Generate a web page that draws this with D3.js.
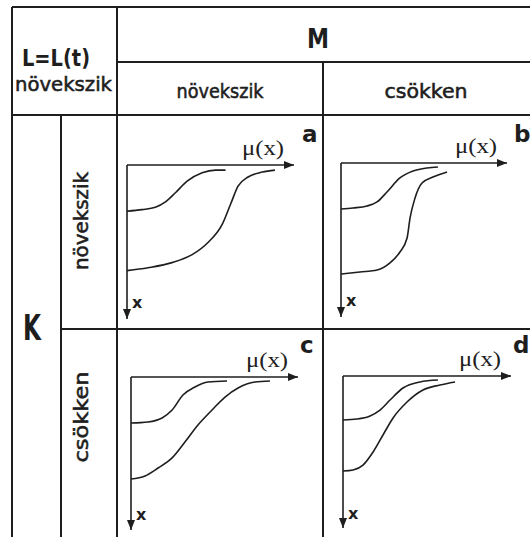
<!DOCTYPE html>
<html>
<head>
<meta charset="utf-8">
<script src="https://cdn.jsdelivr.net/npm/d3@7"></script>
<style>
  body { margin: 0; background: #fff; }
  svg { display: block; }
</style>
</head>
<body>
<div id="chart"></div>
<script>
// Table labels
const cornerTitle = "L=L(t)";
const cornerSub = "növekszik";
const colGroup = "M";
const rowGroup = "K";
const colHeaders = ["növekszik", "csökken"];
const rowHeaders = ["növekszik", "csökken"];
const panelLetters = ["a", "b", "c", "d"];
const axisLabelX = "x";
const axisLabelMu = "μ(x)";

// Curves: [mu, x] as percent of the axis lengths (mu to the right, x downwards)
const curveA1 = [[0, 30], [9, 29], [17, 27.5], [23, 24], [29, 18], [36, 10.5], [45, 5], [53, 3.3], [59, 3.3]];
const curveA2 = [[0, 68.6], [12.6, 66.7], [27, 63.4], [39, 58.2], [48.5, 50.3], [57, 38.6], [62, 25.5], [66.5, 13.7], [72.5, 7.8], [81, 4.6], [88.6, 3.3]];
const curveB1 = [[0, 29.9], [7.2, 29.2], [15.7, 27.9], [21.7, 25.3], [27.7, 18.8], [35.5, 9.7], [43.4, 5.2], [51.8, 3.2], [58.4, 2.6]];
const curveB2 = [[0, 72.1], [11.4, 70.8], [21.7, 69.5], [29.5, 64.9], [35.5, 57.8], [39.8, 48.7], [41.6, 35.7], [44.6, 22.7], [48.8, 13], [55.4, 9.1], [63.9, 5.8]];
const curveC1 = [[0, 30.1], [10.2, 29.4], [18.6, 26.8], [24.6, 21.6], [31.1, 11.8], [38.3, 6.5], [46.1, 3.3], [57.5, 2.6]];
const curveC2 = [[0, 66.7], [8.4, 64.7], [16.2, 59.5], [24.6, 52.9], [32.3, 42.5], [40.1, 31.4], [48.5, 21.6], [56.3, 13.1], [64.1, 7.2], [74.3, 3.3], [83.2, 2.6]];
const curveD1 = [[0, 28.9], [8.3, 28.3], [16.1, 26.3], [22, 22.4], [28, 15.8], [35.7, 7.9], [45.8, 3.9], [56.5, 2.6]];
const curveD2 = [[0, 62.5], [6, 61.8], [11.9, 58.6], [17.9, 50], [23.8, 38.8], [29.8, 27.6], [38.1, 17.1], [47.6, 9.2], [57.7, 5.9], [66.7, 3.9]];

const panelCurves = [[curveA1, curveA2], [curveB1, curveB2], [curveC1, curveC2], [curveD1, curveD2]];

// Layout
const W = 530, H = 537;
const ink = "#1e1e1e";
const sans = "'DejaVu Sans', sans-serif";
const serif = "'Liberation Serif', 'Times New Roman', serif";

const grid = { left: 12, top: 7, rowHeadSplit: 61, body: 117, colSplit: 323, mSplit: 62, headBottom: 115, rowSplit: 329 };

// axis origin, axis lengths and letter position for each panel
const panelLayout = [
    { ox: 127, oy: 165, hl: 167, vl: 154, lx: 302, ly: 142 },
    { ox: 341, oy: 163, hl: 166, vl: 154, lx: 514, ly: 142 },
    { ox: 131, oy: 377, hl: 167, vl: 153, lx: 300, ly: 353 },
    { ox: 343, oy: 376, hl: 168, vl: 152, lx: 513, ly: 353 }
];

const svg = d3.select("#chart")
    .append("svg")
    .attr("width", W)
    .attr("height", H);

svg.append("rect").attr("width", W).attr("height", H).attr("fill", "#fff");

// arrow head
svg.append("defs").append("marker")
    .attr("id", "arrow")
    .attr("viewBox", "0 0 10 8")
    .attr("refX", 10)
    .attr("refY", 4)
    .attr("markerWidth", 10)
    .attr("markerHeight", 8)
    .attr("markerUnits", "userSpaceOnUse")
    .attr("orient", "auto")
    .append("path")
    .attr("d", "M0,0 L10,4 L0,8 Z")
    .attr("fill", ink);

// Table grid lines
const gridLines = [
    [grid.left, grid.top, W, grid.top],
    [grid.left, grid.top, grid.left, H],
    [grid.body, grid.top, grid.body, H],
    [grid.body, grid.mSplit, W, grid.mSplit],
    [grid.colSplit, grid.mSplit, grid.colSplit, H],
    [grid.left, grid.headBottom, W, grid.headBottom],
    [grid.rowHeadSplit, grid.headBottom, grid.rowHeadSplit, H],
    [grid.rowHeadSplit, grid.rowSplit, W, grid.rowSplit]
];

svg.append("g")
    .selectAll("line")
    .data(gridLines)
    .enter()
    .append("line")
    .attr("x1", d => d[0])
    .attr("y1", d => d[1])
    .attr("x2", d => d[2])
    .attr("y2", d => d[3])
    .attr("stroke", ink)
    .attr("stroke-width", 2);

// regular header text is drawn a bit heavier, like the original
function heavy(sel) {
    return sel.attr("fill", ink)
        .attr("stroke", ink)
        .attr("stroke-width", 0.55);
}

// Header texts
svg.append("text")
    .attr("x", 22).attr("y", 66)
    .attr("textLength", 68).attr("lengthAdjust", "spacingAndGlyphs")
    .style("font-family", sans).style("font-weight", "bold").style("font-size", "23px")
    .attr("fill", ink)
    .text(cornerTitle);

heavy(svg.append("text")
    .attr("x", 15).attr("y", 91)
    .attr("textLength", 97).attr("lengthAdjust", "spacingAndGlyphs")
    .style("font-family", sans).style("font-size", "19px"))
    .text(cornerSub);

svg.append("text")
    .attr("x", 307).attr("y", 48)
    .attr("textLength", 22).attr("lengthAdjust", "spacingAndGlyphs")
    .style("font-family", sans).style("font-weight", "bold").style("font-size", "27px")
    .attr("fill", ink)
    .text(colGroup);

svg.append("text")
    .attr("x", 23).attr("y", 340)
    .attr("textLength", 18).attr("lengthAdjust", "spacingAndGlyphs")
    .style("font-family", sans).style("font-weight", "bold").style("font-size", "36px")
    .attr("fill", ink)
    .text(rowGroup);

// column headers
const colX = d3.scaleBand().domain(colHeaders.map((d, i) => i)).range([grid.body, grid.colSplit * 2 - grid.body]);
const colWidths = [87, 83];
heavy(svg.append("g")
    .selectAll("text")
    .data(colHeaders)
    .enter()
    .append("text")
    .attr("x", (d, i) => colX(i) + colX.bandwidth() / 2)
    .attr("y", 98)
    .attr("text-anchor", "middle")
    .attr("textLength", (d, i) => colWidths[i])
    .attr("lengthAdjust", "spacingAndGlyphs")
    .style("font-family", sans).style("font-size", "19px"))
    .text(d => d);

// row headers (rotated)
const rowCenters = [221, 417];
const rowLens = [98, 91];
heavy(svg.append("g")
    .selectAll("text")
    .data(rowHeaders)
    .enter()
    .append("text")
    .attr("transform", (d, i) => `translate(88, ${rowCenters[i]}) rotate(-90)`)
    .attr("text-anchor", "middle")
    .attr("textLength", (d, i) => rowLens[i])
    .attr("lengthAdjust", "spacingAndGlyphs")
    .style("font-family", sans).style("font-size", "19px"))
    .text(d => d);

// Panels
const line = d3.line().curve(d3.curveMonotoneX);

panelLayout.forEach((p, i) => {
    const xScale = d3.scaleLinear().domain([0, 100]).range([p.ox, p.ox + p.hl]);
    const yScale = d3.scaleLinear().domain([0, 100]).range([p.oy, p.oy + p.vl]);
    const g = svg.append("g").attr("class", "panel");

    // mu axis (to the right)
    g.append("line")
        .attr("x1", xScale(0)).attr("y1", yScale(0))
        .attr("x2", xScale(100)).attr("y2", yScale(0))
        .attr("stroke", ink).attr("stroke-width", 1.6)
        .attr("marker-end", "url(#arrow)");

    // x axis (downwards)
    g.append("line")
        .attr("x1", xScale(0)).attr("y1", yScale(0))
        .attr("x2", xScale(0)).attr("y2", yScale(100))
        .attr("stroke", ink).attr("stroke-width", 1.6)
        .attr("marker-end", "url(#arrow)");

    g.selectAll(".curve")
        .data(panelCurves[i])
        .enter()
        .append("path")
        .attr("class", "curve")
        .attr("d", d => line(d.map(pt => [xScale(pt[0]), yScale(pt[1])])))
        .attr("fill", "none")
        .attr("stroke", ink)
        .attr("stroke-width", 1.6);

    g.append("text")
        .attr("x", xScale(100) - 10)
        .attr("y", yScale(0) - 10)
        .attr("text-anchor", "end")
        .attr("textLength", 42).attr("lengthAdjust", "spacingAndGlyphs")
        .style("font-family", serif).style("font-size", "21px")
        .attr("fill", ink)
        .text(axisLabelMu);

    g.append("text")
        .attr("x", xScale(0) + 5)
        .attr("y", yScale(0) + 143)
        .style("font-family", sans).style("font-weight", "bold").style("font-size", "16px")
        .attr("fill", ink)
        .text(axisLabelX);

    g.append("text")
        .attr("x", p.lx)
        .attr("y", p.ly)
        .style("font-family", sans).style("font-weight", "bold").style("font-size", "23px")
        .attr("fill", ink)
        .text(panelLetters[i]);
});
</script>
</body>
</html>
